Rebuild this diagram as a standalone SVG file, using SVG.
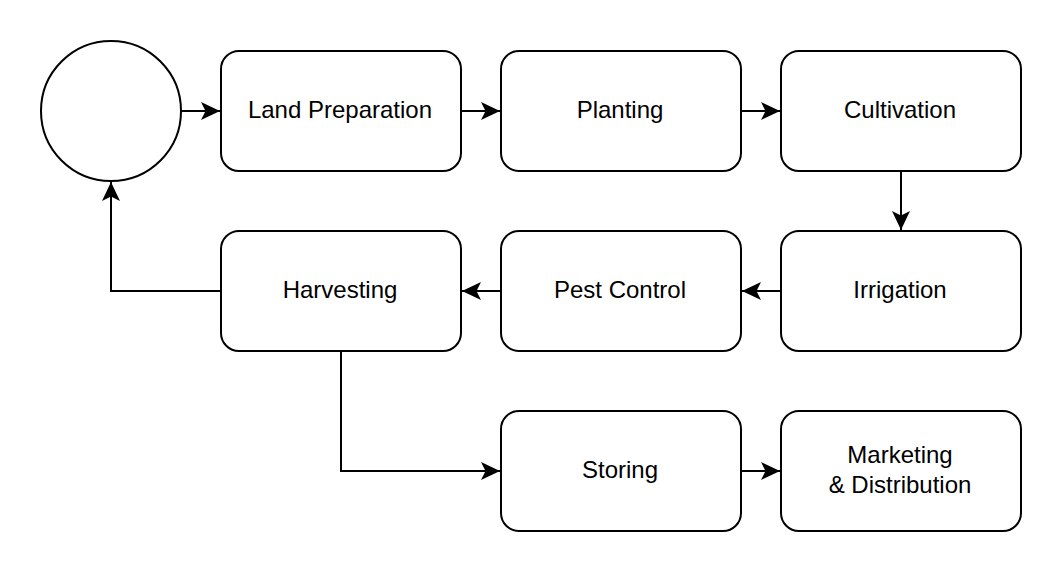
<svg xmlns="http://www.w3.org/2000/svg" width="1062" height="572" viewBox="0 0 1062 572">
<defs>
<style>
.node{fill:#fff;stroke:#000;stroke-width:2}
.lbl{font-family:"Liberation Sans",Arial,sans-serif;font-size:24px;fill:#000;text-anchor:middle}
.edge{fill:none;stroke:#000;stroke-width:2}
</style>
<marker id="arr" markerUnits="userSpaceOnUse" viewBox="-20 -10 21 20" refX="0" refY="0" markerWidth="21" markerHeight="20" orient="auto">
<path d="M0,0 L-19,-9 L-14.5,0 L-19,9 Z" fill="#000"/>
</marker>
</defs>
<rect width="1062" height="572" fill="#fff"/>
<g id="connectors">
<path class="edge" d="M181,111 H220" marker-end="url(#arr)"/>
<path class="edge" d="M461,111 H500" marker-end="url(#arr)"/>
<path class="edge" d="M741,111 H780" marker-end="url(#arr)"/>
<path class="edge" d="M901,171 V230" marker-end="url(#arr)"/>
<path class="edge" d="M781,291 H742" marker-end="url(#arr)"/>
<path class="edge" d="M501,291 H462" marker-end="url(#arr)"/>
<path class="edge" d="M221,291 H111 V182" marker-end="url(#arr)"/>
<path class="edge" d="M341,351 V471 H500" marker-end="url(#arr)"/>
<path class="edge" d="M741,471 H780" marker-end="url(#arr)"/>
</g>
<g id="start"><circle class="node" cx="111" cy="111" r="70"/></g>
<g id="land"><rect class="node" x="221" y="51" width="240" height="120" rx="18"/><text class="lbl" x="340" y="118">Land Preparation</text></g>
<g id="planting"><rect class="node" x="501" y="51" width="240" height="120" rx="18"/><text class="lbl" x="620" y="118">Planting</text></g>
<g id="cultivation"><rect class="node" x="781" y="51" width="240" height="120" rx="18"/><text class="lbl" x="900" y="118">Cultivation</text></g>
<g id="harvesting"><rect class="node" x="221" y="231" width="240" height="120" rx="18"/><text class="lbl" x="340" y="298">Harvesting</text></g>
<g id="pest"><rect class="node" x="501" y="231" width="240" height="120" rx="18"/><text class="lbl" x="620" y="298">Pest Control</text></g>
<g id="irrigation"><rect class="node" x="781" y="231" width="240" height="120" rx="18"/><text class="lbl" x="900" y="298">Irrigation</text></g>
<g id="storing"><rect class="node" x="501" y="411" width="240" height="120" rx="18"/><text class="lbl" x="620" y="478">Storing</text></g>
<g id="marketing"><rect class="node" x="781" y="411" width="240" height="120" rx="18"/><text class="lbl" x="900" y="463">Marketing</text><text class="lbl" x="900" y="493">&amp; Distribution</text></g>
</svg>
